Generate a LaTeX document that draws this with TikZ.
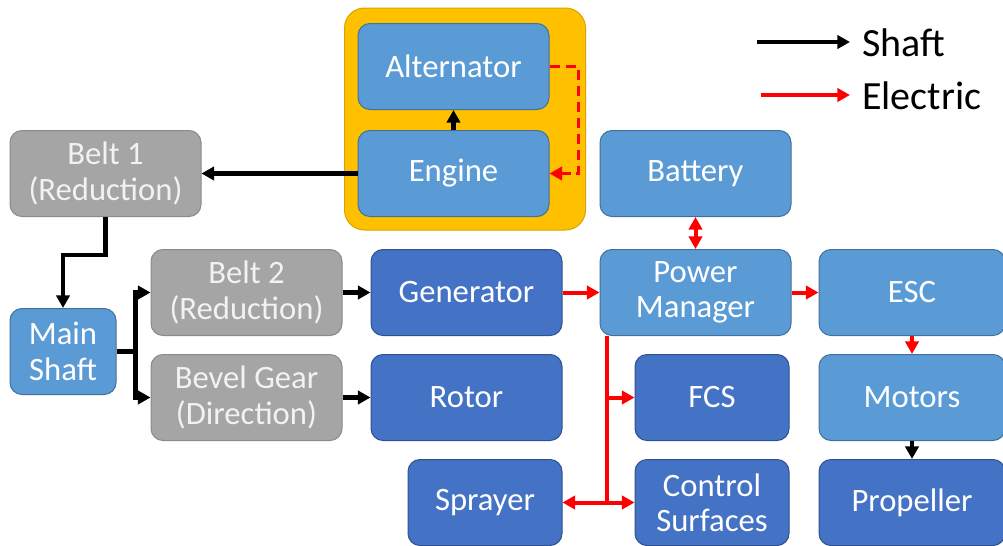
\documentclass[tikz,border=0pt]{standalone}
\usepackage{fontspec}
\setmainfont{Carlito}
\usepackage{tikz}
\usetikzlibrary{arrows.meta, positioning, calc, backgrounds}
\usepackage{xcolor}

\definecolor{ltblue}{HTML}{5B9BD5}
\definecolor{ltblueline}{HTML}{41719C}
\definecolor{dkblue}{HTML}{4472C4}
\definecolor{dkblueline}{HTML}{2F528F}
\definecolor{boxgray}{HTML}{A5A5A5}
\definecolor{grayline}{HTML}{8A8A8A}
\definecolor{graytext}{HTML}{F2F2F2}
\definecolor{engorange}{HTML}{FFC000}
\definecolor{engline}{HTML}{D9A300}
\definecolor{elecred}{HTML}{FF0000}

\newcommand{\boxfont}{\fontsize{24.5}{26.5}\selectfont}
\newcommand{\legfont}{\fontsize{30}{34}\selectfont}

\begin{document}
\begin{tikzpicture}[
  x=0.75pt, y=-0.75pt,
  node distance = 13.5pt and 21pt,
  lbox/.style  = {rectangle, rounded corners=9pt, draw=ltblueline, fill=ltblue,
                  line width=0.75pt, text=white, minimum width=143.25pt,
                  minimum height=64.5pt, font=\boxfont, align=center},
  dbox/.style  = {lbox, draw=dkblueline, fill=dkblue},
  gbox/.style  = {lbox, draw=grayline, fill=boxgray, text=graytext},
  enginebox/.style = {rounded corners=15pt, draw=engline, fill=engorange, line width=0.75pt},
  shaftarr/.style  = {-{Triangle[length=9.5pt,width=10pt]}, line width=3.25pt, black},
  elecarr/.style   = {shaftarr, line width=3pt, elecred},
  elecboth/.style  = {{Triangle[length=9.5pt,width=10pt]}-{Triangle[length=9.5pt,width=10pt]},
                      line width=3pt, elecred},
  legtext/.style   = {inner sep=0pt, font=\legfont, text=black}
]
\useasboundingbox (0,0) rectangle (1003,546);

\node[gbox] (belt1) at (105.5,173.5) {Belt 1\\(Reduction)};
\node[lbox, right=117pt of belt1] (engine) {Engine};
\node[lbox, above=15pt of engine] (alt) {Alternator};
\node[lbox, right=37.5pt of engine] (battery) {Battery};
\node[lbox, below=24pt of battery] (pm) {Power\\Manager};
\node[dbox, left=27.75pt of pm] (gen) {Generator};
\node[gbox, left=of gen] (belt2) {Belt 2\\(Reduction)};
\node[lbox, right=20.25pt of pm, minimum width=139.5pt] (esc) {ESC};
\node[dbox, below=of gen] (rotor) {Rotor};
\node[gbox, below=of belt2] (bevel) {Bevel Gear\\(Direction)};
\node[lbox, below=of esc, minimum width=139.5pt] (motors) {Motors};
\node[dbox, below=of motors, minimum width=139.5pt] (prop) {Propeller};
\node[dbox, minimum width=115.5pt, below left=13.5pt and 1.5pt of pm.south east] (fcs) {FCS};
\node[dbox, minimum width=115.5pt, below=of fcs] (ctrl) {Control\\Surfaces};
\node[dbox, minimum width=115.5pt, below left=13.5pt and 0pt of rotor.south east] (spray) {Sprayer};
\node[lbox, minimum width=79.5pt, below right=68.25pt and 0pt of belt1.south west] (shaft) {Main\\Shaft};

% engine housing
\begin{scope}[on background layer]
  \draw[enginebox] ($(alt.north west)+(-9.75pt,11.25pt)$) rectangle ($(engine.south east)+(27pt,-9.75pt)$);
\end{scope}

% shaft power
\draw[shaftarr] (engine.west) -- (belt1.east);
\draw[shaftarr] (engine.north) -- (alt.south);
\draw[shaftarr] (belt1.south) -- ++(0,-28.5pt) -| (shaft.north);
\draw[shaftarr] (shaft.east) -- ++(14.25pt,0) |- (belt2.west);
\draw[shaftarr] (shaft.east) -- ++(14.25pt,0) |- (bevel.west);
\draw[shaftarr] (belt2.east) -- (gen.west);
\draw[shaftarr] (bevel.east) -- (rotor.west);
\draw[shaftarr] (motors.south) -- (prop.north);

% electric power
\draw[elecarr, line width=2.6pt, dash pattern=on 8pt off 4pt]
  (alt.east) -- ++(21.75pt,0) |- (engine.east);
\draw[elecarr] (gen.east) -- (pm.west);
\draw[elecarr] (pm.east) -- (esc.west);
\draw[elecboth] (battery.south) -- (pm.north);
\draw[elecarr] (esc.south) -- (motors.north);
\coordinate (bus) at ($(pm.south west)+(5.25pt,0)$);
\draw[elecarr] (bus) |- (ctrl.west);
\draw[elecarr] (bus |- fcs.west) -- (fcs.west);
\draw[elecarr] (bus |- ctrl.west) -- (spray.east);

% legend
\node[legtext, anchor=west] (lshaft) at (862,43) {Shaft};
\node[legtext, anchor=west] (lelec) at (862,96) {Electric};
\coordinate (lsa) at (757,42);
\coordinate (lea) at (761,95);
\draw[shaftarr, line width=2.4pt, shorten >=9pt] (lsa) -- (lsa -| lshaft.west);
\draw[elecarr, line width=2.4pt, shorten >=9pt] (lea) -- (lea -| lelec.west);

\end{tikzpicture}
\end{document}
